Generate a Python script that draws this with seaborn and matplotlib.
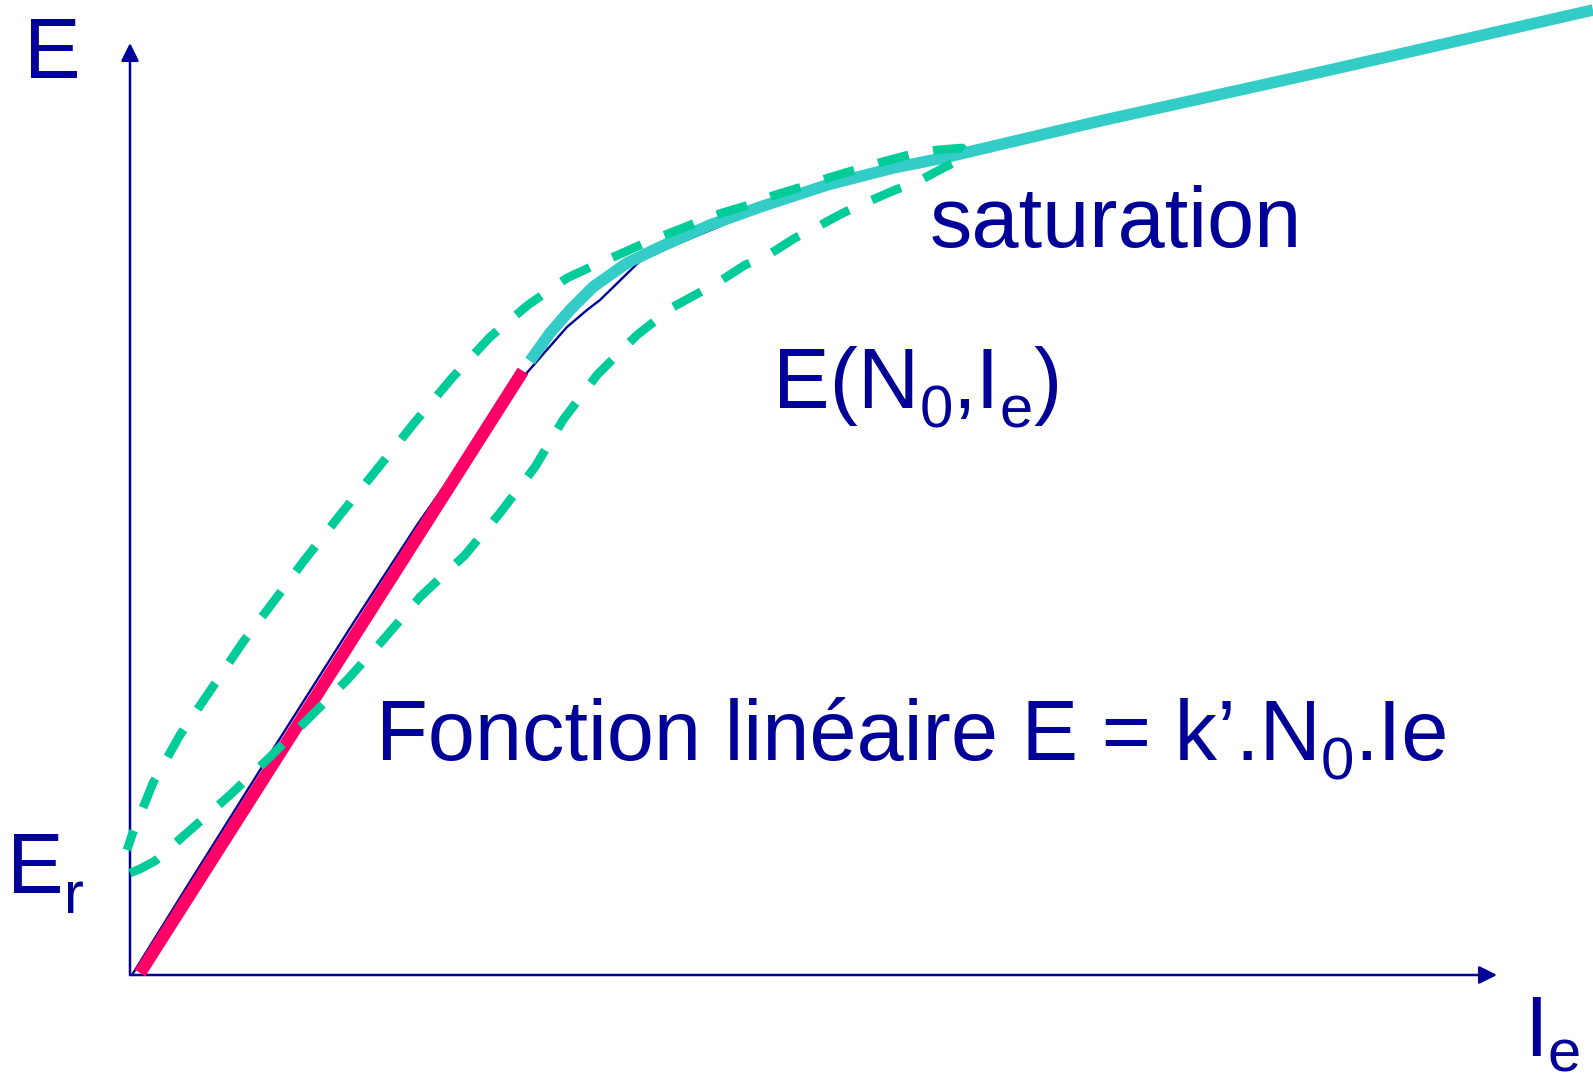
import matplotlib
matplotlib.use("Agg")
import matplotlib.pyplot as plt
import numpy as np
import seaborn as sns

# ---------------- data (Ie, E) in chart units, origin at the axes corner ----------------
# linear part k'.N0.Ie
red_ie = [10, 393]
red_e = [2, 604]

# E(N0, Ie) thin curve
curve_ie = [2, 56, 147, 222, 287, 336, 371, 395, 415, 437, 457, 470, 510, 547, 600, 660]
curve_e = [0, 87, 232, 350, 450, 520, 570, 600, 623, 648, 665, 675, 714, 731, 753, 776]

# saturation branch
sat_ie = [400, 420, 440, 463, 497, 530, 580, 630, 697, 763, 813, 970, 1191, 1463]
sat_e = [614, 642, 665, 688, 712, 728, 750, 768, 790, 807, 817, 854, 903, 965]

# hysteresis loop: lower (rising) branch, then upper (descending) branch
lower_ie = [0, 10, 25, 58, 100, 140, 180, 217, 253, 290, 335, 370, 405, 433, 467,
            507, 543, 565, 587, 615, 635, 665, 685, 713, 735, 765, 787, 815, 830, 838]
lower_e = [102, 106, 114, 143, 180, 218, 258, 295, 335, 378, 420, 462, 508, 555, 600,
           640, 668, 680, 692, 710, 718, 737, 747, 762, 772, 785, 793, 808, 815, 822]
upper_ie = [832, 807, 782, 752, 728, 698, 675, 645, 622, 592, 568, 540, 517, 488, 465,
            437, 398, 360, 322, 285, 248, 210, 173, 147, 113, 82, 50, 23, 2, -3]
upper_e = [827, 825, 821, 813, 806, 797, 789, 780, 771, 762, 753, 742, 733, 720, 710,
           697, 670, 638, 597, 553, 507, 460, 413, 378, 333, 287, 240, 192, 140, 125]

# ---------------- style ----------------
sns.set_style("white")
plt.rcParams["font.family"] = ["Liberation Sans", "DejaVu Sans"]

NAVY = "#000099"
PINK = "#FF0066"
CYAN = "#33CCC6"
GREEN = "#00CC99"

W, H = 1593, 1084
fig = plt.figure(figsize=(W / 100, H / 100), dpi=100)
ax = fig.add_axes([0, 0, 1, 1])
ax.set_xlim(-130, W - 130)
ax.set_ylim(975 - H, 975)
ax.axis("off")

# axes with arrows
arrow = dict(arrowstyle="-|>,head_length=1.08,head_width=0.54", mutation_scale=10,
             lw=1.8, color=NAVY, shrinkA=0, shrinkB=0)
ax.annotate("", xy=(1367, 0), xytext=(0, 0), arrowprops=arrow, zorder=1)
ax.annotate("", xy=(0, 932), xytext=(0, 0), arrowprops=arrow, zorder=1)

# curves
sns.lineplot(x=curve_ie, y=curve_e, ax=ax, sort=False, estimator=None,
             color=NAVY, linewidth=1.7, solid_joinstyle="round", zorder=2)
sns.lineplot(x=red_ie, y=red_e, ax=ax, sort=False, estimator=None,
             color=PINK, linewidth=9.0, solid_capstyle="butt", zorder=3)
sns.lineplot(x=sat_ie, y=sat_e, ax=ax, sort=False, estimator=None,
             color=CYAN, linewidth=8.3, solid_capstyle="butt",
             solid_joinstyle="round", zorder=4)
loop_ie = lower_ie + upper_ie
loop_e = lower_e + upper_e
sns.lineplot(x=loop_ie, y=loop_e, ax=ax, sort=False, estimator=None,
             color=GREEN, linewidth=6.3, linestyle=(0, (3.6, 2.85)),
             dash_capstyle="butt", dash_joinstyle="round", zorder=5)

# texts (pixel positions -> figure fraction), subscripts placed by hand
renderer = fig.canvas.get_renderer()
MAIN, SUB = 61, 43


def rich(px, py, parts, drop=20):
    x = px
    for s, sub in parts:
        size = SUB if sub else MAIN
        y = py + (drop if sub else 0)
        t = fig.text(x / W, 1 - y / H, s, color=NAVY, fontsize=size,
                     va="baseline", ha="left")
        w = t.get_window_extent(renderer=renderer).width
        x += w


rich(24, 78, [("E", False)])
rich(7, 893, [("E", False), ("r", True)])
rich(930, 247, [("saturation", False)])
rich(773, 408, [("E(N", False), ("0", True), (",I", False), ("e", True), (")", False)])
rich(376, 760, [("Fonction linéaire E = k’.N", False), ("0", True), (".Ie", False)])
rich(1524, 1056, [("I", False), ("e", True)], drop=15)

fig.savefig("out.png", dpi=100)
